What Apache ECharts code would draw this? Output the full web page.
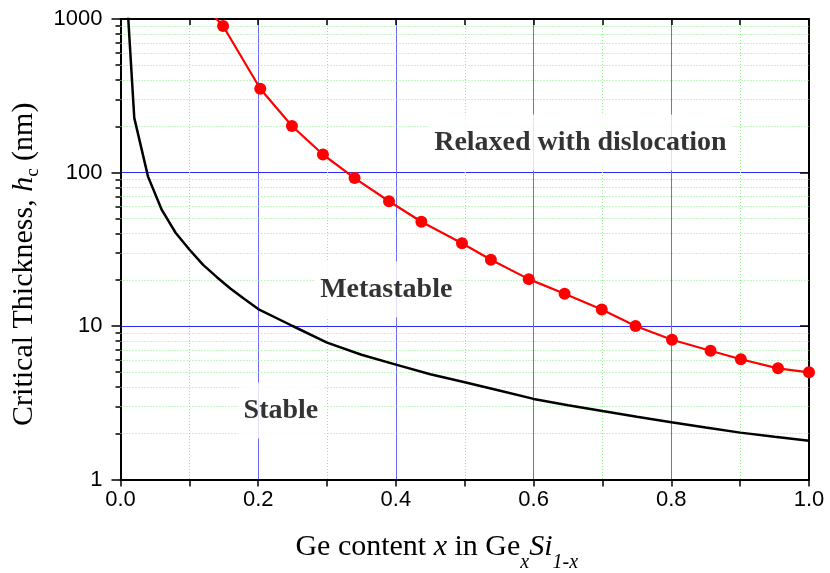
<!DOCTYPE html>
<html>
<head>
<meta charset="utf-8">
<script src="https://cdn.jsdelivr.net/npm/echarts@6/dist/echarts.min.js"></script>
<style>
  html, body { margin: 0; padding: 0; background: #fff; }
  #chart { width: 830px; height: 573px; }
</style>
</head>
<body>
<div id="chart"></div>
<script>
// ==================== 数据 ====================

// 红线：带圆点的曲线（第一个点在图外，被裁剪）
const redX = [0.10, 0.149, 0.203, 0.249, 0.294, 0.340, 0.390, 0.437, 0.496, 0.538,
  0.593, 0.645, 0.699, 0.748, 0.801, 0.857, 0.901, 0.955, 1.0];
const redY = [1550, 900, 351, 201, 131, 92, 65, 47.8, 34.6, 27.0,
  20.2, 16.2, 12.8, 10.0, 8.14, 6.9, 6.07, 5.30, 4.99];

// 黑线：稳定区边界
const blackX = [0.01, 0.02, 0.04, 0.06, 0.08, 0.10, 0.12, 0.14, 0.16, 0.18, 0.20,
  0.25, 0.30, 0.35, 0.40, 0.45, 0.50, 0.55, 0.60, 0.65, 0.70, 0.75, 0.80,
  0.85, 0.90, 0.95, 1.00];
const blackY = [1250, 227, 94, 57, 40.5, 31.5, 25, 20.8, 17.5, 15, 12.9,
  10.0, 7.8, 6.5, 5.6, 4.85, 4.3, 3.8, 3.35, 3.05, 2.79, 2.56, 2.36,
  2.18, 2.02, 1.90, 1.79];

// 区域标注
const annoText = ['Relaxed with dislocation', 'Metastable', 'Stable'];
const annoX = [0.668, 0.386, 0.233];
const annoY = [157, 17.3, 2.82];

// 对数轴的次刻度
const minorY = [2, 3, 4, 5, 6, 7, 8, 9, 20, 30, 40, 50, 60, 70, 80, 90,
  200, 300, 400, 500, 600, 700, 800, 900];

// ==================== 样式 ====================

const SANS = "'Liberation Sans', Arial, sans-serif";
const SERIF = "'Liberation Serif', 'Times New Roman', serif";
const BLUE_V = '#6a6aff';
const BLUE_H = '#2a2aff';
const GREEN = '#8fef8f';
const DOT = [1, 2];

const axisLine = { show: true, onZero: false, lineStyle: { color: '#000', width: 2 } };
const tickStyle = { color: '#000', width: 1.5 };

function zip(xs, ys) {
  return xs.map((x, i) => [x, ys[i]]);
}

// ==================== 图表 ====================

const chart = echarts.init(document.getElementById('chart'));

const option = {
  animation: false,
  grid: { left: 120.5, right: 21, top: 19, bottom: 93.5, outerBoundsMode: 'none', containLabel: false },
  xAxis: [
    {
      type: 'value', min: 0, max: 1, interval: 0.2, position: 'bottom',
      axisLine,
      axisTick: { length: 7, lineStyle: tickStyle },
      minorTick: { show: true, splitNumber: 2, length: 7, lineStyle: tickStyle },
      axisLabel: { fontFamily: SANS, fontSize: 22, color: '#000', margin: 9,
        formatter: v => v.toFixed(1) },
      splitLine: { show: true, lineStyle: { color: BLUE_V, width: 1 } },
      minorSplitLine: { show: true, lineStyle: { color: GREEN, width: 1, type: DOT } },
      name: '{n|Ge content }{i|x}{n| in Ge}{si|x}{i|Si}{si|1-x}',
      nameLocation: 'middle',
      nameGap: 43,
      nameTextStyle: {
        padding: [0, 56, 0, 0],
        rich: {
          n: { fontFamily: SERIF, fontSize: 30, color: '#000', lineHeight: 50 },
          i: { fontFamily: SERIF, fontSize: 30, fontStyle: 'italic', color: '#000', lineHeight: 50 },
          si: { fontFamily: SERIF, fontSize: 20, fontStyle: 'italic', color: '#000',
            lineHeight: 10, verticalAlign: 'bottom' }
        }
      }
    },
    {
      type: 'value', min: 0, max: 1, interval: 0.2, position: 'top',
      axisLine,
      axisTick: { inside: true, length: 6, lineStyle: tickStyle },
      minorTick: { show: true, splitNumber: 2, length: 6, lineStyle: tickStyle },
      axisLabel: { show: false },
      splitLine: { show: false }
    }
  ],
  yAxis: [
    {
      type: 'log', logBase: 10, min: 1, max: 1000, position: 'left',
      axisLine,
      axisTick: { length: 9, lineStyle: tickStyle },
      axisLabel: { fontFamily: SANS, fontSize: 22, color: '#000', margin: 18,
        formatter: v => String(v) },
      splitLine: { show: true, lineStyle: { color: BLUE_H, width: 1 } },
      name: '{n|Critical Thickness, }{i|h}{s|c}{n| (nm)}',
      nameLocation: 'middle',
      nameGap: 73,
      nameTextStyle: {
        padding: [0, 30, 0, 0],
        rich: {
          n: { fontFamily: SERIF, fontSize: 30, color: '#000', lineHeight: 38 },
          i: { fontFamily: SERIF, fontSize: 30, fontStyle: 'italic', color: '#000', lineHeight: 38 },
          s: { fontFamily: SERIF, fontSize: 19, color: '#000', lineHeight: 18, verticalAlign: 'bottom' }
        }
      }
    },
    {
      type: 'log', logBase: 10, min: 1, max: 1000, position: 'left',
      axisLine: { show: false },
      axisTick: { length: 5, customValues: minorY, lineStyle: tickStyle },
      axisLabel: { show: false },
      splitLine: { show: false }
    },
    {
      type: 'log', logBase: 10, min: 1, max: 1000, position: 'right',
      axisLine,
      axisTick: { inside: true, length: 9, lineStyle: tickStyle },
      axisLabel: { show: false },
      splitLine: { show: false }
    },
    {
      type: 'log', logBase: 10, min: 1, max: 1000, position: 'right',
      axisLine: { show: false },
      axisTick: { inside: true, length: 5, customValues: minorY, lineStyle: tickStyle },
      axisLabel: { show: false },
      splitLine: { show: false }
    }
  ],
  series: [
    {
      name: 'stable',
      type: 'line',
      data: zip(blackX, blackY),
      showSymbol: false,
      symbol: 'none',
      lineStyle: { color: '#000', width: 2.5 },
      z: 4,
      markLine: {
        silent: true,
        z: 1,
        symbol: ['none', 'none'],
        label: { show: false },
        lineStyle: { color: GREEN, width: 1, type: DOT },
        data: minorY.map(v => ({ yAxis: v }))
      }
    },
    {
      name: 'relaxed',
      type: 'line',
      data: zip(redX, redY),
      symbol: 'circle',
      symbolSize: 12,
      itemStyle: { color: '#ff0000' },
      lineStyle: { color: '#ff0000', width: 2.2 },
      z: 5
    },
    {
      name: 'labels',
      type: 'scatter',
      data: annoX.map((x, i) => ({ value: [x, annoY[i]], label: { formatter: annoText[i] } })),
      symbolSize: 1,
      itemStyle: { color: 'rgba(0,0,0,0)' },
      silent: true,
      z: 3,
      label: {
        show: true,
        position: 'inside',
        fontFamily: SERIF,
        fontSize: 28,
        fontWeight: 'bold',
        color: '#000',
        textBorderWidth: 0,
        textBorderColor: 'transparent',
        backgroundColor: '#fff',
        padding: [14, 5]
      }
    }
  ]
};

chart.setOption(option);
</script>
</body>
</html>
